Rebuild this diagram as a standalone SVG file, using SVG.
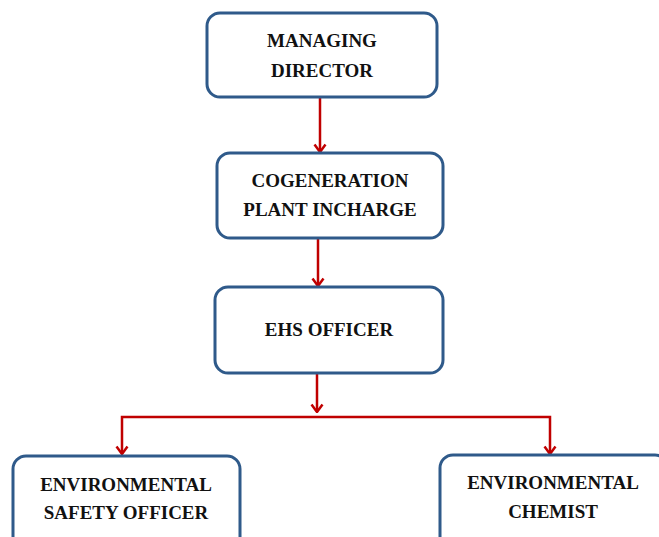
<svg xmlns="http://www.w3.org/2000/svg" width="659" height="537" viewBox="0 0 659 537">
  <style>
    .box { fill: #ffffff; stroke: #2f5a8a; stroke-width: 3; }
    .label { font-family: "Liberation Serif", "DejaVu Serif", serif; font-weight: bold; font-size: 19px; fill: #111111; text-anchor: middle; }
    .link { fill: none; stroke: #c00000; stroke-width: 2.5; }
  </style>
  <defs>
    <!-- open chevron head, drawn pointing along +x so orient="auto" turns it to the line direction -->
    <marker id="chevron" viewBox="0 0 10 14" refX="9" refY="7" markerWidth="10" markerHeight="14" markerUnits="userSpaceOnUse" orient="auto-start-reverse">
      <polyline points="1.5,1.5 9,7 1.5,12.5" fill="none" stroke="#c00000" stroke-width="2.5"/>
    </marker>
  </defs>
  <rect width="659" height="537" fill="#ffffff"/>

  <g id="connectors">
    <line class="link" x1="320" y1="97" x2="320" y2="152" marker-end="url(#chevron)"/>
    <line class="link" x1="318" y1="238" x2="318" y2="286" marker-end="url(#chevron)"/>
    <line class="link" x1="317" y1="373" x2="317" y2="412" marker-end="url(#chevron)"/>
    <polyline class="link" points="122,454 122,417 550,417 550,454" marker-start="url(#chevron)" marker-end="url(#chevron)"/>
  </g>

  <g id="managing-director">
    <rect class="box" x="207" y="13" width="230" height="84" rx="13"/>
    <text class="label" x="322" y="47">MANAGING</text>
    <text class="label" x="322" y="77">DIRECTOR</text>
  </g>

  <g id="cogeneration-plant-incharge">
    <rect class="box" x="217" y="153" width="226" height="85" rx="13"/>
    <text class="label" x="330" y="187">COGENERATION</text>
    <text class="label" x="330" y="216">PLANT INCHARGE</text>
  </g>

  <g id="ehs-officer">
    <rect class="box" x="215" y="287" width="228" height="86" rx="13"/>
    <text class="label" x="329" y="336">EHS OFFICER</text>
  </g>

  <g id="environmental-safety-officer">
    <rect class="box" x="13" y="456" width="227" height="100" rx="13"/>
    <text class="label" x="126" y="491">ENVIRONMENTAL</text>
    <text class="label" x="126" y="519">SAFETY OFFICER</text>
  </g>

  <g id="environmental-chemist">
    <rect class="box" x="440" y="455" width="228" height="100" rx="13"/>
    <text class="label" x="553" y="489">ENVIRONMENTAL</text>
    <text class="label" x="553" y="518">CHEMIST</text>
  </g>
</svg>
